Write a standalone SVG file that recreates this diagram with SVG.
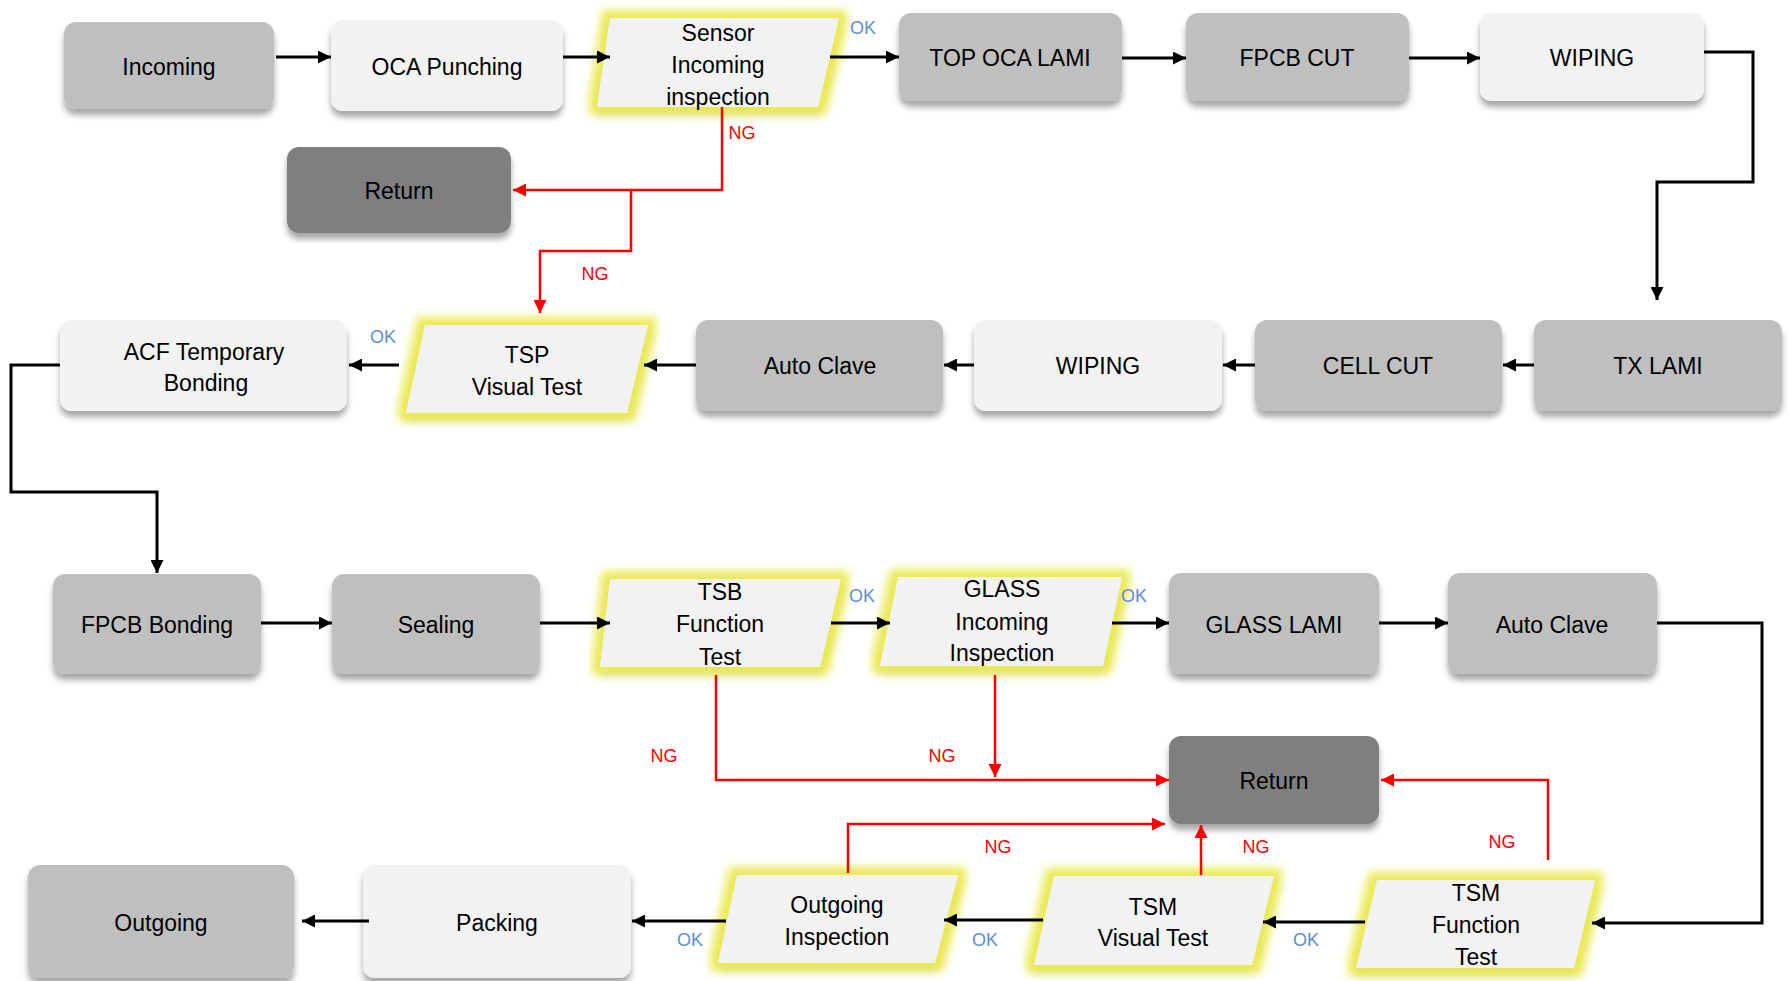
<svg xmlns="http://www.w3.org/2000/svg" width="1791" height="981" viewBox="0 0 1791 981">
<defs>
<filter id="sh" x="-10%" y="-20%" width="120%" height="150%">
<feGaussianBlur in="SourceAlpha" stdDeviation="3"/>
<feOffset dx="0" dy="6" result="b"/>
<feFlood flood-color="#000" flood-opacity="0.35"/>
<feComposite in2="b" operator="in" result="s"/>
<feMerge><feMergeNode in="s"/><feMergeNode in="SourceGraphic"/></feMerge>
</filter>
<filter id="glow" x="-20%" y="-40%" width="140%" height="180%">
<feMorphology in="SourceAlpha" operator="dilate" radius="8" result="d"/>
<feGaussianBlur in="d" stdDeviation="4" result="db"/>
<feFlood flood-color="#e9e94f" flood-opacity="0.95"/>
<feComposite in2="db" operator="in" result="g"/>
<feGaussianBlur in="SourceAlpha" stdDeviation="4"/>
<feOffset dx="0" dy="8" result="ob"/>
<feFlood flood-color="#8a8a20" flood-opacity="0.35"/>
<feComposite in2="ob" operator="in" result="s"/>
<feMerge><feMergeNode in="s"/><feMergeNode in="g"/><feMergeNode in="SourceGraphic"/></feMerge>
</filter>
<marker id="ab" viewBox="0 0 12 12" refX="12" refY="6" markerWidth="13" markerHeight="13" markerUnits="userSpaceOnUse" orient="auto">
<path d="M0,0 L12,6 L0,12 z" fill="#000"/>
</marker>
<marker id="ar" viewBox="0 0 12 12" refX="12" refY="6" markerWidth="13" markerHeight="13" markerUnits="userSpaceOnUse" orient="auto">
<path d="M0,0 L12,6 L0,12 z" fill="#ff0000"/>
</marker>
</defs>
<style>
text{font-family:"Liberation Sans",Arial,sans-serif;font-size:23px;fill:#000;text-anchor:middle}
.box{filter:url(#sh)}
.g1{fill:#bfbfbf}
.g2{fill:#f2f2f2}
.g3{fill:#7f7f7f}
.para{fill:#f2f2f2;filter:url(#glow)}
.k{fill:none;stroke:#000;stroke-width:3;marker-end:url(#ab)}
.r{fill:none;stroke:#ff0000;stroke-width:2.5;marker-end:url(#ar)}
text.ok{font-size:18px;fill:#5b8fd9}
text.ng{font-size:18px;fill:#ff0000}
</style>
<rect width="1791" height="981" fill="#fff"/>

<g id="n-incoming"><rect class="box g1" x="64" y="22" width="210" height="87" rx="12"/><text x="169" y="75">Incoming</text></g>
<g id="n-oca-punching"><rect class="box g2" x="331" y="20" width="232" height="91" rx="12"/><text x="447" y="75">OCA Punching</text></g>
<g id="n-sensor-incoming"><polygon class="para" points="610,18 839,18 818,107 597,107"/><text x="718" y="41">Sensor</text><text x="718" y="73">Incoming</text><text x="718" y="105">inspection</text></g>
<g id="n-top-oca-lami"><rect class="box g1" x="899" y="13" width="223" height="88" rx="12"/><text x="1010" y="66">TOP OCA LAMI</text></g>
<g id="n-fpcb-cut"><rect class="box g1" x="1186" y="13" width="223" height="88" rx="12"/><text x="1297" y="66">FPCB CUT</text></g>
<g id="n-wiping-1"><rect class="box g2" x="1480" y="13" width="224" height="88" rx="12"/><text x="1592" y="66">WIPING</text></g>
<g id="n-return-1"><rect class="box g3" x="287" y="147" width="224" height="86" rx="12"/><text x="399" y="199">Return</text></g>

<g id="n-acf"><rect class="box g2" x="60" y="320" width="287" height="91" rx="12"/><text x="204" y="360">ACF Temporary</text><text x="206" y="391">Bonding</text></g>
<g id="n-tsp-visual"><polygon class="para" points="425,325 648,325 627,413 406,413"/><text x="527" y="363">TSP</text><text x="527" y="395">Visual Test</text></g>
<g id="n-auto-clave-1"><rect class="box g1" x="696" y="320" width="247" height="91" rx="12"/><text x="820" y="374">Auto Clave</text></g>
<g id="n-wiping-2"><rect class="box g2" x="974" y="320" width="248" height="91" rx="12"/><text x="1098" y="374">WIPING</text></g>
<g id="n-cell-cut"><rect class="box g1" x="1255" y="320" width="247" height="91" rx="12"/><text x="1378" y="374">CELL CUT</text></g>
<g id="n-tx-lami"><rect class="box g1" x="1534" y="320" width="248" height="91" rx="12"/><text x="1658" y="374">TX LAMI</text></g>

<g id="n-fpcb-bonding"><rect class="box g1" x="53" y="574" width="208" height="100" rx="12"/><text x="157" y="633">FPCB Bonding</text></g>
<g id="n-sealing"><rect class="box g1" x="332" y="574" width="208" height="100" rx="12"/><text x="436" y="633">Sealing</text></g>
<g id="n-tsb-function"><polygon class="para" points="610,579 841,579 820,667 600,667"/><text x="720" y="600">TSB</text><text x="720" y="632">Function</text><text x="720" y="665">Test</text></g>
<g id="n-glass-incoming"><polygon class="para" points="898,577 1122,577 1103,666 880,666"/><text x="1002" y="597">GLASS</text><text x="1002" y="630">Incoming</text><text x="1002" y="661">Inspection</text></g>
<g id="n-glass-lami"><rect class="box g1" x="1169" y="573" width="210" height="101" rx="12"/><text x="1274" y="633">GLASS LAMI</text></g>
<g id="n-auto-clave-2"><rect class="box g1" x="1448" y="573" width="209" height="101" rx="12"/><text x="1552" y="633">Auto Clave</text></g>
<g id="n-return-2"><rect class="box g3" x="1169" y="736" width="210" height="88" rx="12"/><text x="1274" y="789">Return</text></g>

<g id="n-outgoing"><rect class="box g1" x="28" y="865" width="266" height="113" rx="12"/><text x="161" y="931">Outgoing</text></g>
<g id="n-packing"><rect class="box g2" x="363" y="865" width="268" height="113" rx="12"/><text x="497" y="931">Packing</text></g>
<g id="n-outgoing-inspection"><polygon class="para" points="737,875 958,875 935,963 718,963"/><text x="837" y="913">Outgoing</text><text x="837" y="945">Inspection</text></g>
<g id="n-tsm-visual"><polygon class="para" points="1054,876 1274,876 1252,965 1034,965"/><text x="1153" y="915">TSM</text><text x="1153" y="946">Visual Test</text></g>
<g id="n-tsm-function"><polygon class="para" points="1377,880 1595,880 1574,968 1356,968"/><text x="1476" y="901">TSM</text><text x="1476" y="933">Function</text><text x="1476" y="965">Test</text></g>

<g id="connectors">
<path class="k" d="M276,57 H331"/>
<path class="k" d="M563,57 H610"/>
<path class="k" d="M830,57 H899"/>
<path class="k" d="M1122,58 H1186"/>
<path class="k" d="M1409,58 H1480"/>
<path class="k" d="M1704,52 H1753 V182 H1657 V300"/>
<path class="k" d="M1534,365 H1503"/>
<path class="k" d="M1255,365 H1223"/>
<path class="k" d="M974,365 H944"/>
<path class="k" d="M696,365 H644"/>
<path class="k" d="M399,365 H349"/>
<path class="k" d="M60,365 H11 V492 H157 V573"/>
<path class="k" d="M261,623 H332"/>
<path class="k" d="M540,623 H610"/>
<path class="k" d="M831,623 H890"/>
<path class="k" d="M1112,623 H1169"/>
<path class="k" d="M1379,623 H1448"/>
<path class="k" d="M1657,623 H1762 V923 H1592"/>
<path class="k" d="M1365,922 H1263"/>
<path class="k" d="M1043,920 H944"/>
<path class="k" d="M726,921 H632"/>
<path class="k" d="M369,921 H302"/>
<path class="r" d="M722,107 V190 H513"/>
<path class="r" d="M631,190 V251 H540 V313"/>
<path class="r" d="M716,675 V780 H1169"/>
<path class="r" d="M995,675 V777"/>
<path class="r" d="M848,873 V824 H1165"/>
<path class="r" d="M1201,875 V825"/>
<path class="r" d="M1548,860 V780 H1381"/>
<text class="ok" x="863" y="34">OK</text>
<text class="ok" x="383" y="343">OK</text>
<text class="ok" x="862" y="602">OK</text>
<text class="ok" x="1134" y="602">OK</text>
<text class="ok" x="690" y="946">OK</text>
<text class="ok" x="985" y="946">OK</text>
<text class="ok" x="1306" y="946">OK</text>
<text class="ng" x="742" y="139">NG</text>
<text class="ng" x="595" y="280">NG</text>
<text class="ng" x="664" y="762">NG</text>
<text class="ng" x="942" y="762">NG</text>
<text class="ng" x="998" y="853">NG</text>
<text class="ng" x="1256" y="853">NG</text>
<text class="ng" x="1502" y="848">NG</text>
</g>
</svg>
